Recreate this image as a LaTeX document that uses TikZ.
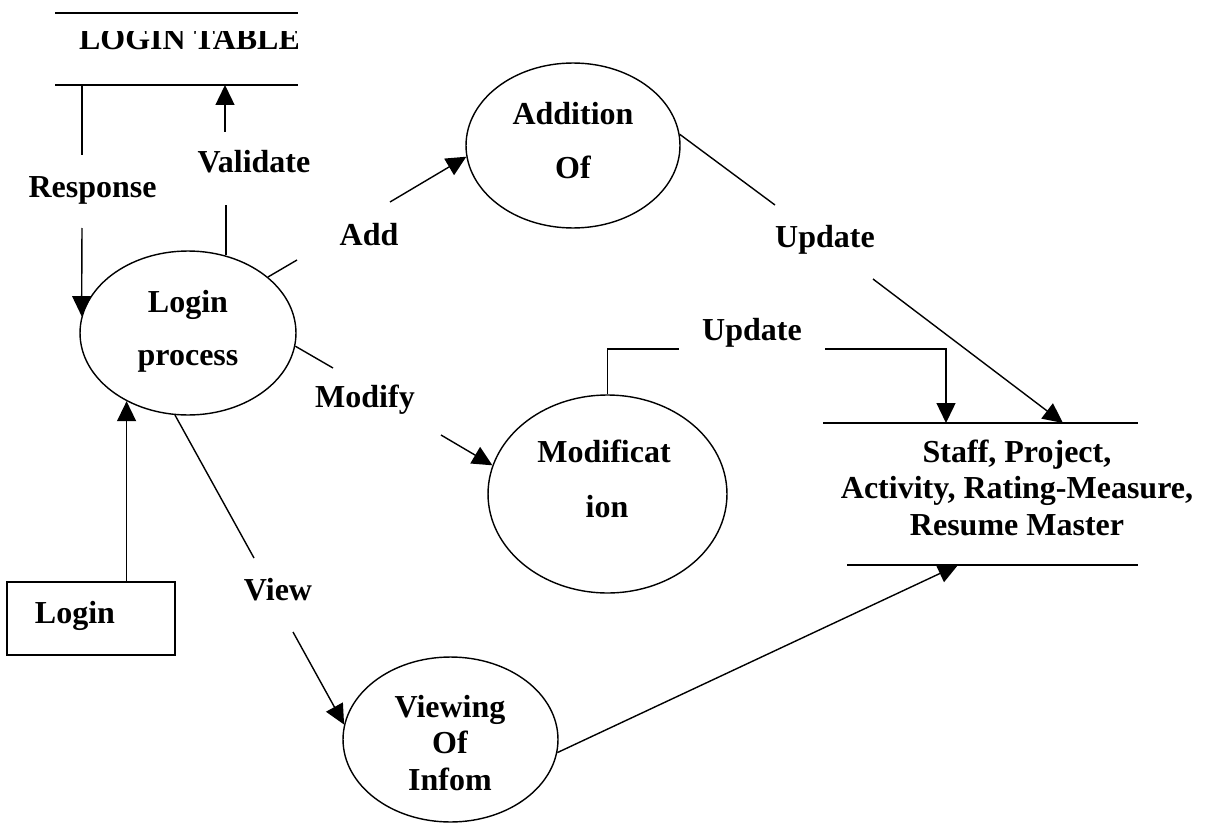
\documentclass[tikz,border=0pt]{standalone}
\usepackage{fontspec}
\setmainfont{Liberation Serif}
\usetikzlibrary{arrows.meta,shapes.geometric}
\begin{document}
\begin{tikzpicture}[x=0.02cm,y=-0.02cm,line width=0.8pt,
  lbl/.style={font=\fontsize{18.21}{20.5}\selectfont\bfseries,inner sep=0pt,anchor=base},
  proc/.style={draw,ellipse,inner sep=0pt},
  flow/.style={-{Triangle[length=0.4cm,width=0.38cm]}}]
\useasboundingbox (0,0) rectangle (1209,831);

% ---- data stores (open-ended pairs of lines) ----
\coordinate (ltA) at (55,13);  \coordinate (ltB) at (298,13);
\coordinate (ltC) at (55,85);  \coordinate (ltD) at (298,85);
\draw (ltA) -- (ltB);
\draw (ltC) -- (ltD);
\begin{scope}
  \clip (55,32) rectangle (297,85);
  \node[lbl] (ltText) at (189.5,50) {LOGIN TABLE};
\end{scope}

\coordinate (ssA) at (823,423);  \coordinate (ssB) at (1138,423);
\coordinate (ssC) at (847,565);  \coordinate (ssD) at (1138,565);
\draw (ssA) -- (ssB);
\draw (ssC) -- (ssD);
\node[lbl] (ss1) at (1017,462) {Staff, Project,};
\node[lbl] (ss2) at (1017,498) {Activity, Rating-Measure,};
\node[lbl] (ss3) at (1017,535) {Resume Master};

% ---- processes ----
\node[proc,minimum width=4.32cm,minimum height=3.28cm] (login) at (188,333) {};
\node[lbl] (login1) at (188,312) {Login};
\node[lbl] (login2) at (188,365) {process};

\node[proc,minimum width=4.28cm,minimum height=3.30cm] (addn) at (573,145.5) {};
\node[lbl] (addn1) at (573,125) {Addition};
\node[lbl] (addn2) at (573,178) {Of};

\node[proc,minimum width=4.78cm,minimum height=3.96cm] (modn) at (607.5,494) {};
\node[lbl] (modn1) at (604,462) {Modificat};
\node[lbl] (modn2) at (607,517) {ion};

\node[proc,minimum width=4.30cm,minimum height=3.30cm] (view) at (450.5,739.5) {};
\node[lbl] (view1) at (450,717) {Viewing};
\node[lbl] (view2) at (450,753) {Of};
\node[lbl] (view3) at (450,790) {Infom};

% ---- external entity ----
\node[draw,rectangle,inner sep=0pt,minimum width=3.36cm,minimum height=1.46cm] (loginbox) at (91,618.5) {};
\node[lbl] (loginboxT) at (75,623) {Login};

% ---- flow labels ----
\node[lbl] (lResp) at (92.5,197) {Response};
\node[lbl] (lVal)  at (254,173) {Validate};
\node[lbl] (lAdd)  at (369,245) {Add};
\node[lbl] (lMod)  at (365,407) {Modify};
\node[lbl] (lView) at (278,600) {View};
\node[lbl] (lUpd1) at (825,247) {Update};
\node[lbl] (lUpd2) at (752,340) {Update};

% ---- flows ----
% Response: login table -> login process
\coordinate (respA) at (82,155);
\coordinate (respB) at (82,228);
\draw (ltC -| respA) -- (respA);
\draw[flow] (respB) -- (login.171);

% Validate: login process -> login table
\coordinate (valA) at (225,205);
\coordinate (valB) at (225,132);
\draw (login.64) -- (login.64 |- valA);
\draw[flow] (valB) -- (valB |- ltC);

% Add
\coordinate (addA) at (297,260);
\coordinate (addB) at (390,202);
\draw (login.35) -- (addA);
\draw[flow] (addB) -- (addn.186);

% Modify
\coordinate (modA) at (333,368);
\coordinate (modB) at (441,435);
\draw (login.-7) -- (modA);
\draw[flow] (modB) -- (modn.166);

% View
\coordinate (vwA) at (254,558);
\coordinate (vwB) at (293,632);
\draw (login.261) -- (vwA);
\draw[flow] (vwB) -- (view.172);

% Login entity -> login process
\draw[flow] (login.228 |- loginbox.north) -- (login.228);

% Update from addition
\coordinate (u1A) at (775,205);
\coordinate (u1B) at (873,279);
\coordinate (u1Tip) at (1063,423);
\draw (addn.6) -- (u1A);
\draw[flow] (u1B) -- (u1Tip);

% Update from modification
\coordinate (u2A) at (679,349);
\coordinate (u2B) at (825,349);
\coordinate (u2Tip) at (946,423);
\draw (modn.north) |- (u2A);
\draw[flow] (u2B) -| (u2Tip);

% Viewing -> store
\coordinate (vsTip) at (958,565);
\draw[flow] (view.-7) -- (vsTip);
\end{tikzpicture}
\end{document}
